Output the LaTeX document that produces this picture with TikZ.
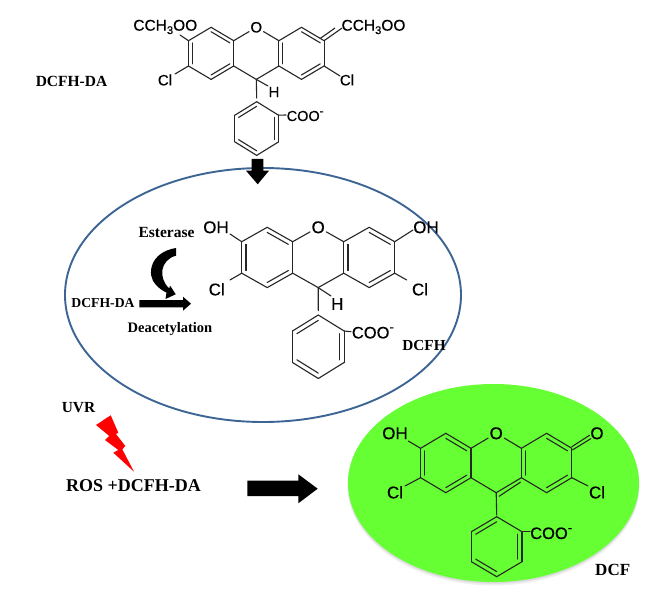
\documentclass[tikz,border=0pt]{standalone}
\usepackage{fontspec}
\usetikzlibrary{calc}
\newfontfamily\chemf[FakeBold=0.3]{Liberation Sans}
\newfontfamily\labf{Liberation Serif}
\definecolor{ringblue}{HTML}{3D6594}
\definecolor{dcfgreen}{HTML}{66FF33}
\newcommand{\dblb}[3]{%
  \draw[bond] (#1) -- (#2);
  \draw[bond] ($(#1)!0.17!(#3)$) -- ($(#2)!0.17!(#3)$);}
\newcommand{\sgl}[2]{\draw[bond] (#1) -- (#2);}
% name, cx, y0, u, v1, v2
\newcommand{\core}[6]{%
  \coordinate (#1O) at (#2,#3);
  \coordinate (#1a1) at ({#2-2*#4},#3);
  \coordinate (#1a2) at ({#2-#4},{#3+#5});
  \coordinate (#1a3) at ({#2-#4},{#3+#5+#6});
  \coordinate (#1a4) at ({#2-2*#4},{#3+2*#5+#6});
  \coordinate (#1a5) at ({#2-3*#4},{#3+#5+#6});
  \coordinate (#1a6) at ({#2-3*#4},{#3+#5});
  \coordinate (#1b1) at ({#2+2*#4},#3);
  \coordinate (#1b2) at ({#2+#4},{#3+#5});
  \coordinate (#1b3) at ({#2+#4},{#3+#5+#6});
  \coordinate (#1b4) at ({#2+2*#4},{#3+2*#5+#6});
  \coordinate (#1b5) at ({#2+3*#4},{#3+#5+#6});
  \coordinate (#1b6) at ({#2+3*#4},{#3+#5});
  \coordinate (#1c) at (#2,{#3+2*#5+#6});
  \coordinate (#1la) at ({#2-2*#4},{#3+#5+0.5*#6});
  \coordinate (#1lb) at ({#2+2*#4},{#3+#5+0.5*#6});
  \coordinate (#1lc) at (#2,{#3+#5+0.5*#6});
  \sgl{#1a1}{#1a6}
  \dblb{#1a1}{#1a2}{#1la}
  \sgl{#1a2}{#1a3}
  \dblb{#1a3}{#1a4}{#1la}
  \sgl{#1a4}{#1a5}
  \dblb{#1a5}{#1a6}{#1la}
  \sgl{#1b1}{#1b2}
  \dblb{#1b1}{#1b6}{#1lb}
  \sgl{#1b6}{#1b5}
  \dblb{#1b5}{#1b4}{#1lb}
  \sgl{#1b4}{#1b3}
  \dblb{#1b2}{#1b3}{#1lb}
  \draw[bond] (#1a2) -- ($(#1a2)!0.68!(#1O)$);
  \draw[bond] (#1b2) -- ($(#1b2)!0.68!(#1O)$);
  \sgl{#1a3}{#1c}
}
% name, cx, top, u, v1, v2
\newcommand{\phenyl}[6]{%
  \coordinate (#1p1) at (#2,#3);
  \coordinate (#1p2) at ({#2+#4},{#3+#5});
  \coordinate (#1p3) at ({#2+#4},{#3+#5+#6});
  \coordinate (#1p4) at (#2,{#3+2*#5+#6});
  \coordinate (#1p5) at ({#2-#4},{#3+#5+#6});
  \coordinate (#1p6) at ({#2-#4},{#3+#5});
  \coordinate (#1pc) at (#2,{#3+#5+0.5*#6});
  \sgl{#1p1}{#1p2}
  \dblb{#1p2}{#1p3}{#1pc}
  \sgl{#1p3}{#1p4}
  \dblb{#1p4}{#1p5}{#1pc}
  \sgl{#1p5}{#1p6}
  \dblb{#1p6}{#1p1}{#1pc}
}
\newcommand{\chemsize}[1]{\fontsize{#1}{#1}\selectfont}
\newcommand{\subthree}{\raisebox{-0.22em}{\scalebox{0.72}{3}}}
\newcommand{\supminus}{\raisebox{0.42em}{\scalebox{0.8}{-}}}
\tikzset{
  bond/.style={draw=black!85,line width=1.1pt,line cap=round},
  chem/.style={inner sep=0pt,text=black,font=\chemf},
  lab/.style={inner sep=0pt,text=black,font=\labf\bfseries},
  blockarrow/.style={fill=black,draw=none},
}
\begin{document}
\begin{tikzpicture}[x=1pt,y=-1pt]
\useasboundingbox (0,0) rectangle (651,599);
\fill[white] (0,0) rectangle (651,599);

% ellipses
\draw[ringblue,line width=1.9pt] (263,295) ellipse [x radius=198,y radius=127];
\fill[black!6] (493.5,486) ellipse [x radius=146,y radius=99.5];
\fill[black!14] (493.5,484.5) ellipse [x radius=145.7,y radius=99.2];
\fill[dcfgreen] (493.5,483) ellipse [x radius=145.5,y radius=99];

% molecule 1: DCFH-DA
\core{A}{256.3}{27.3}{22.6}{13.4}{25.3}
\phenyl{A}{256.7}{101.7}{21.8}{13.5}{26.7}
\coordinate (Ah) at (268,86);
\coordinate (Aup) at (256.7,98);
\sgl{Ac}{Ab3}
\sgl{Ac}{Aup}
\sgl{Ac}{Ah}
\coordinate (Ao1) at (180,35);
\coordinate (Ao2) at (341.7,28.3);
\coordinate (Acl1) at (175,74);
\coordinate (Acl2) at (340,76);
\coordinate (Acoo) at (286,115);
\sgl{Aa6}{Ao1}
\dblb{Ab6}{Ao2}{Ab1}
\sgl{Aa5}{Acl1}
\sgl{Ab5}{Acl2}
\sgl{Ap2}{Acoo}
\node[chem,font=\chemf\chemsize{15}] (ao) at (AO) {O};
\node[chem,font=\chemf\chemsize{15.5}] (acch1) at (165.3,27) {CCH\subthree OO};
\node[chem,font=\chemf\chemsize{15.5}] (acch2) at (373.5,27) {CCH\subthree OO};
\node[chem,font=\chemf\chemsize{15}] (acl1) at (165,80) {Cl};
\node[chem,font=\chemf\chemsize{15}] (acl2) at (347,80) {Cl};
\node[chem,font=\chemf\chemsize{15}] (ah) at (274,92) {H};
\node[chem,anchor=west,font=\chemf\chemsize{14.5}] (acoo) at (286.5,116) {COO\supminus};

% molecule 2: DCFH
\core{B}{318.2}{227.3}{25.5}{14.4}{31.5}
\phenyl{B}{318.3}{315}{25.8}{16}{31.5}
\coordinate (Bh) at (331,296);
\coordinate (Bup) at (318.3,310.7);
\sgl{Bc}{Bb3}
\sgl{Bc}{Bup}
\sgl{Bc}{Bh}
\coordinate (Bo1) at (230,234);
\coordinate (Bo2) at (413,230);
\coordinate (Bcl1) at (230,280);
\coordinate (Bcl2) at (406.7,280);
\coordinate (Bcoo) at (351,331.7);
\sgl{Ba6}{Bo1}
\sgl{Bb6}{Bo2}
\sgl{Ba5}{Bcl1}
\sgl{Bb5}{Bcl2}
\sgl{Bp2}{Bcoo}
\node[chem,font=\chemf\chemsize{17}] (bo) at (BO) {O};
\node[chem,font=\chemf\chemsize{17}] (boh1) at (216,227.3) {OH};
\node[chem,font=\chemf\chemsize{17}] (boh2) at (426,227.3) {OH};
\node[chem,font=\chemf\chemsize{17}] (bcl1) at (216.7,289.3) {Cl};
\node[chem,font=\chemf\chemsize{17}] (bcl2) at (420,289.3) {Cl};
\node[chem,font=\chemf\chemsize{17}] (bh) at (337.3,304) {H};
\node[chem,anchor=west,font=\chemf\chemsize{16.5}] (bcoo) at (351.7,332.7) {COO\supminus};

% molecule 3: DCF
\core{C}{496.2}{433.3}{25.2}{15}{29.4}
\phenyl{C}{496.7}{516.7}{25.3}{15}{30}
\coordinate (Cup) at (496.7,515);
\sgl{Cc}{Cb3}
\draw[bond] ($(Cc)+(3,3.5)$) -- ($(Cb3)+(-1,4.5)$);
\sgl{Cc}{Cup}
\coordinate (Co1) at (408.3,441);
\coordinate (Co2) at (590,437.3);
\coordinate (Ccl1) at (405,486);
\coordinate (Ccl2) at (588,486);
\coordinate (Ccoo) at (530,531.7);
\sgl{Ca6}{Co1}
\draw[bond] ($(Cb6)+(0,-1.6)$) -- ($(Co2)+(-0.5,-2)$);
\draw[bond] ($(Cb6)+(0.8,1.6)$) -- ($(Co2)+(0.8,1.4)$);
\sgl{Ca5}{Ccl1}
\sgl{Cb5}{Ccl2}
\sgl{Cp2}{Ccoo}
\node[chem,font=\chemf\chemsize{17}] (co) at (CO) {O};
\node[chem,font=\chemf\chemsize{17}] (coh) at (395,433.3) {OH};
\node[chem,font=\chemf\chemsize{17}] (co2) at (597,433.3) {O};
\node[chem,font=\chemf\chemsize{17}] (ccl1) at (395,492.3) {Cl};
\node[chem,font=\chemf\chemsize{17}] (ccl2) at (597,492.3) {Cl};
\node[chem,anchor=west,font=\chemf\chemsize{16.5}] (ccoo) at (530,533.3) {COO\supminus};

% labels
\node[lab,font=\labf\bfseries\chemsize{15.5}] (l1) at (71.5,81) {DCFH-DA};
\node[lab,font=\labf\bfseries\chemsize{15.5}] (l2) at (166.5,233) {Esterase};
\node[lab,font=\labf\bfseries\chemsize{13.7}] (l3) at (103,303.5) {DCFH-DA};
\node[lab,font=\labf\bfseries\chemsize{14.5}] (l4) at (170,329) {Deacetylation};
\node[lab,font=\labf\bfseries\chemsize{15.3}] (l5) at (424,345.5) {DCFH};
\node[lab,font=\labf\bfseries\chemsize{15.4}] (l6) at (78.5,407.5) {UVR};
\node[lab,font=\labf\bfseries\chemsize{18}] (l7) at (133.5,486) {ROS +DCFH-DA};
\node[lab,font=\labf\bfseries\chemsize{17}] (l8) at (612.7,570) {DCF};

% block arrows
\fill[blockarrow] (251.7,159) -- (263.3,159) -- (263.3,170.7) -- (269,170.7) -- (257.7,184.3) -- (246,170.7) -- (251.7,170.7) -- cycle;
\fill[blockarrow] (247.3,480.7) -- (298.3,480.7) -- (298.3,474.3) -- (317.7,488.7) -- (298.3,503.3) -- (298.3,496) -- (247.3,496) -- cycle;
\fill[blockarrow] (139.3,300) -- (183,300) -- (183,296.7) -- (191,303.7) -- (183,310.7) -- (183,307.3) -- (139.3,307.3) -- cycle;
% curved arrow
\fill[blockarrow] (176,248) .. controls (150,252) and (146,275) .. (156,285) .. controls (160,289) and (163,291) .. (166.5,292.5) -- (165.5,299) -- (175.7,294.3) -- (170,285.5) -- (169.3,288.5) .. controls (158,278) and (160,260) .. (176,255.7) -- cycle;
% lightning
\fill[red] (96,425) -- (110.7,415.3) -- (118.3,432.7) -- (116,434) -- (125.3,446) -- (122.3,449.3) -- (134,471.7) -- (113.3,452.7) -- (118.3,450) -- (105,440) -- (109.3,436) -- cycle;
\end{tikzpicture}
\end{document}
